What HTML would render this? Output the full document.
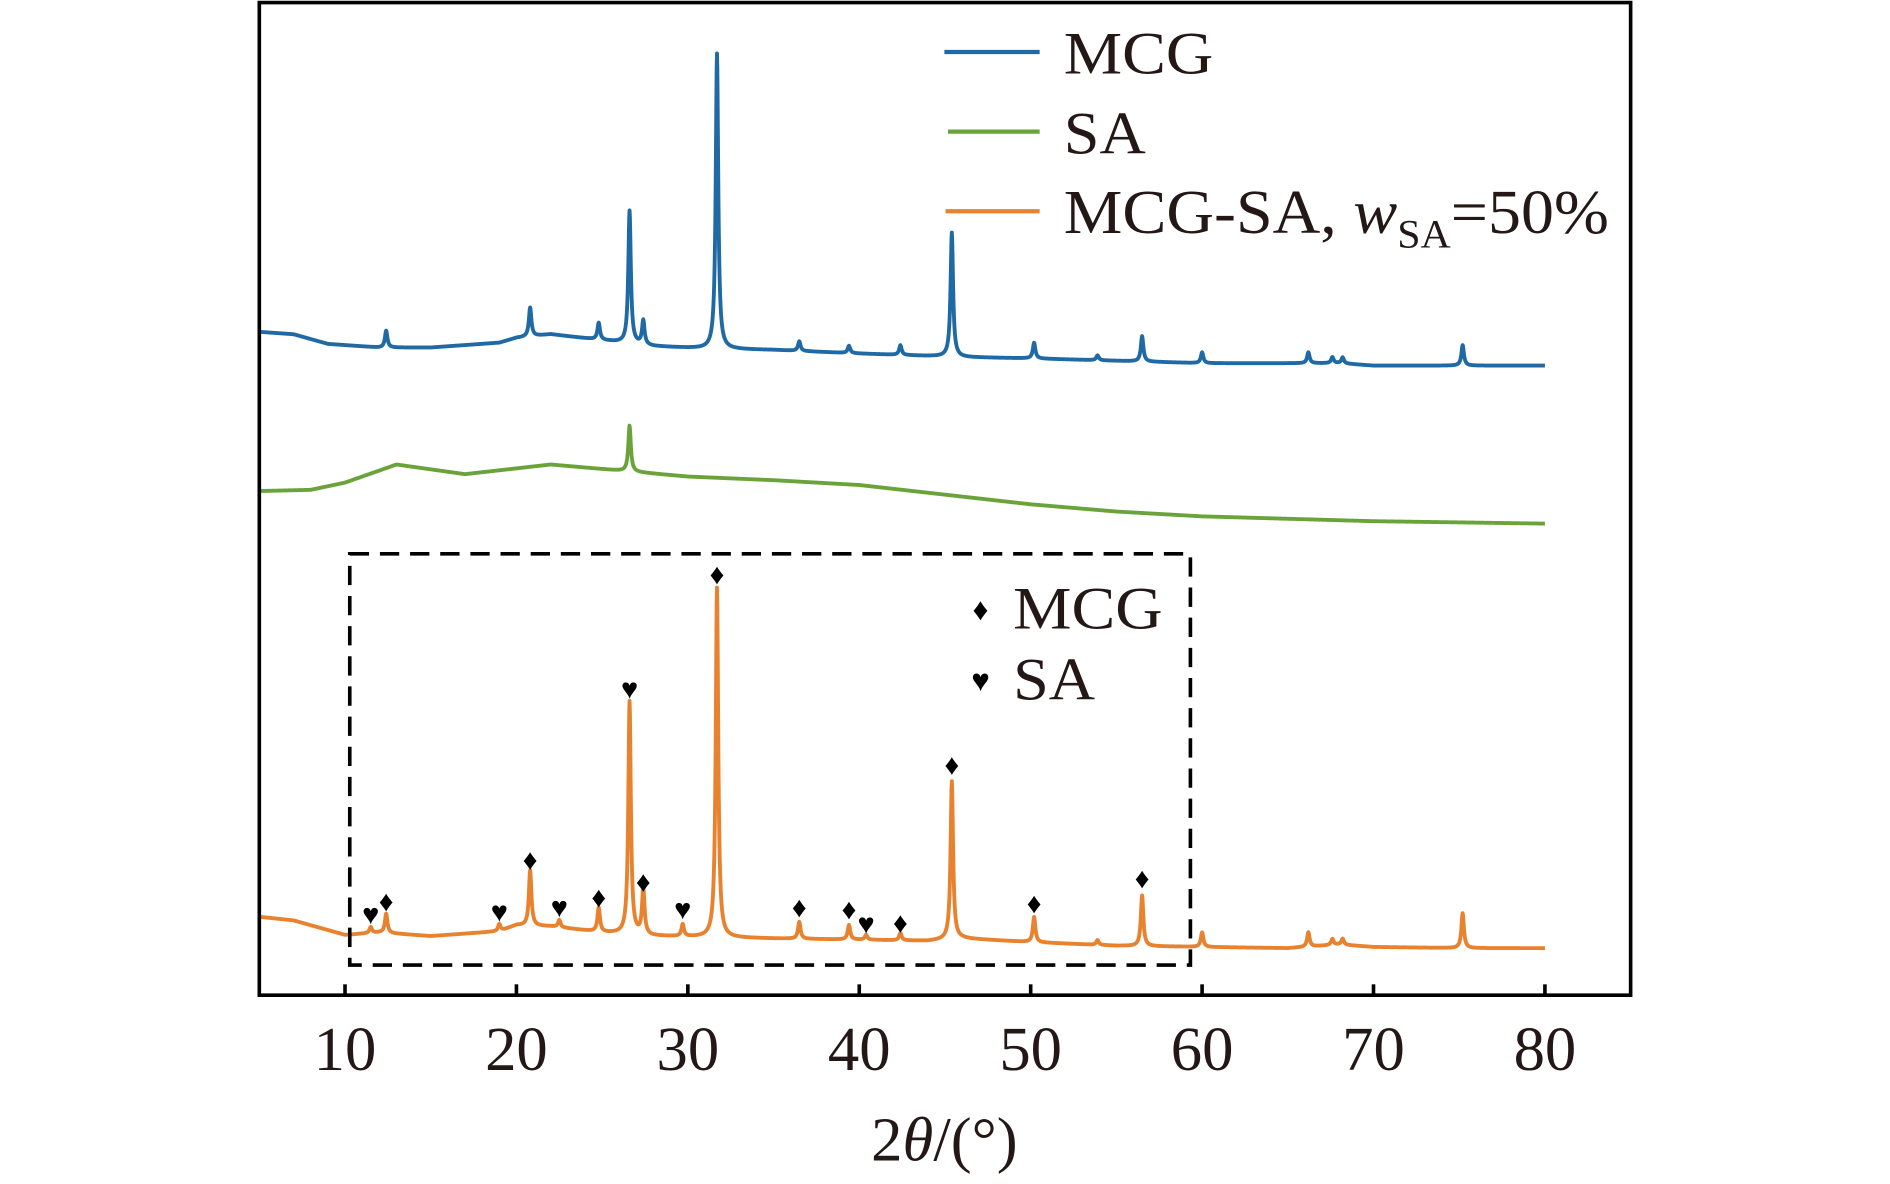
<!DOCTYPE html>
<html><head><meta charset="utf-8"><style>
html,body{margin:0;padding:0;background:#fff;}
svg{display:block;}
text{font-family:"Liberation Serif",serif;fill:#231815;}
</style></head><body>
<svg id="chart" width="1890" height="1184" viewBox="0 0 1560 977" xmlns="http://www.w3.org/2000/svg">
<g transform="scale(0.9955)">
<g id="series"></g>
<g id="markers"></g>
<rect x="290" y="459" width="697" height="341" fill="none" stroke="#000" stroke-width="3" stroke-dasharray="16,9"/>
<rect x="215" y="2" width="1137" height="823" fill="none" stroke="#000" stroke-width="3"/>
<g id="xticks"></g>
<text x="783" y="962" font-size="52" text-anchor="middle">2<tspan font-style="italic">θ</tspan>/(°)</text>
<g>
  <line x1="783" y1="43" x2="862" y2="43" stroke="#1f6aa5" stroke-width="3.5"/>
  <text x="882" y="61" font-size="50" textLength="124" lengthAdjust="spacingAndGlyphs">MCG</text>
  <line x1="786" y1="109" x2="862" y2="109" stroke="#6aa33a" stroke-width="3.5"/>
  <text x="882" y="127" font-size="50" textLength="68" lengthAdjust="spacingAndGlyphs">SA</text>
  <line x1="784" y1="175" x2="862" y2="175" stroke="#e8822e" stroke-width="3.5"/>
  <text x="882" y="193" font-size="52" textLength="452" lengthAdjust="spacingAndGlyphs">MCG-SA, <tspan font-style="italic">w</tspan><tspan font-size="33" dy="12">SA</tspan><tspan dy="-12">=50%</tspan></text>
</g>
<g>
  <text x="813" y="514" font-size="26" text-anchor="middle" style="fill:#000">♦</text>
  <text x="840" y="521" font-size="50" textLength="124" lengthAdjust="spacingAndGlyphs">MCG</text>
  <text x="813" y="573" font-size="26" text-anchor="middle" style="fill:#000">♥</text>
  <text x="840" y="580" font-size="50" textLength="68" lengthAdjust="spacingAndGlyphs">SA</text>
</g>
</g>
</svg>
<script>
// x axis values
const xTicks = [10,20,30,40,50,60,70,80];
// MCG baseline (2theta, intensity) and peaks (position, height)
const mcgBaseX = [5,7,9,12,15,19,20,22,25,28,31,35,40,44,46,50,55,60,65,68,70,75,80];
const mcgBaseY = [550,548,540,537,537,541,545,548,543,538,536,535,532,530,529,528,526,524,524,524,522,522,522];
const mcgPeakX = [12.4,20.8,24.8,26.6,27.4,31.7,36.5,39.4,42.4,45.4,50.2,53.9,56.5,60.0,66.2,67.6,68.2,75.2];
const mcgPeakH = [14,24,14,110,20,245,8,6,8,103,13,4,21,9,9,5,5,17];
// SA baseline and peaks
const saBaseX = [5,8,10,13,17,22,26,30,35,40,45,50,55,60,70,80];
const saBaseY = [418,419,425,440,432,440,435,430,427,423,415,407,401,397,393,391];
const saPeakX = [26.6];
const saPeakH = [38];
// MCG-SA composite baseline and peaks
const compBaseX = [5,7,10,12,15,19,20,22,25,28,31,35,40,44,46,50,55,60,65,68,70,75,80];
const compBaseY = [65,62,50,52,49,53,58,57,52,49,48,47,46,45,47,44,41,40,39,42,40,39,39];
const compPeakX = [11.5,12.4,19.0,20.8,22.5,24.8,26.6,27.4,29.7,31.7,36.5,39.4,40.4,42.4,45.4,50.2,53.9,56.5,60.0,66.2,67.6,68.2,75.2];
const compPeakH = [5,16,6,46,6,20,193,38,10,290,14,12,4,6,131,21,4,42,12,12,5,5,29];
// phase markers
const diamondX = [12.4,20.8,24.8,27.4,31.7,36.5,39.4,42.4,45.4,50.2,56.5];
const diamondV = [79,113,82,95,350,74,72,61,192,77,98];
const heartX = [11.5,19.0,22.5,26.6,29.7,40.4];
const heartV = [68,70,74,255,72,60];

const NS = "http://www.w3.org/2000/svg";
const xMin = 5, xMax = 85, pxL = 215, pxR = 1352;
function xs(v){ return pxL + (v - xMin) / (xMax - xMin) * (pxR - pxL); }
function ys(v){ return 825 - v; }
function interp(bx, by, x){
  for (let i = 0; i < bx.length - 1; i++) {
    if (x >= bx[i] && x <= bx[i+1]) { const t = (x - bx[i]) / (bx[i+1] - bx[i]); return by[i] + t * (by[i+1] - by[i]); }
  }
  return by[by.length - 1];
}
function profile(bx, by, px, ph, x){
  let v = interp(bx, by, x);
  for (let i = 0; i < px.length; i++) { const d = (x - px[i]) / 0.11; v += ph[i] / (1 + d * d * 1.6); }
  return v;
}
const sg = document.getElementById('series');
function drawSeries(name, color, bx, by, px, ph){
  let d = '';
  for (let x = 5; x <= 80.0001; x += 0.02) {
    d += (d ? 'L' : 'M') + xs(x).toFixed(2) + ',' + ys(profile(bx, by, px, ph, x)).toFixed(2);
  }
  const p = document.createElementNS(NS, 'path');
  p.setAttribute('d', d);
  p.setAttribute('fill', 'none');
  p.setAttribute('stroke', color);
  p.setAttribute('stroke-width', '3.2');
  p.setAttribute('stroke-linejoin', 'round');
  
  
  sg.appendChild(p);
}
drawSeries('mcg-line', '#1f6aa5', mcgBaseX, mcgBaseY, mcgPeakX, mcgPeakH);
drawSeries('sa-line', '#6aa33a', saBaseX, saBaseY, saPeakX, saPeakH);
drawSeries('mcg-sa-line', '#e8822e', compBaseX, compBaseY, compPeakX, compPeakH);

const mg = document.getElementById('markers');
function marker(name, ch, x, v){
  const t = document.createElementNS(NS, 'text');
  t.setAttribute('x', xs(x));
  t.setAttribute('y', ys(v) + 9);
  t.setAttribute('font-size', '24');
  t.setAttribute('text-anchor', 'middle');
  t.setAttribute('style', 'fill:#000');
  t.textContent = ch;
  
  
  mg.appendChild(t);
}
diamondX.forEach((x, i) => marker('mcg-marker', '♦', x, diamondV[i]));
heartX.forEach((x, i) => marker('sa-marker', '♥', x, heartV[i]));

const tg = document.getElementById('xticks');
xTicks.forEach(v => {
  const l = document.createElementNS(NS, 'line');
  l.setAttribute('x1', xs(v)); l.setAttribute('x2', xs(v));
  l.setAttribute('y1', 825); l.setAttribute('y2', 816);
  l.setAttribute('stroke', '#000'); l.setAttribute('stroke-width', '3');
  
  
  tg.appendChild(l);
  const t = document.createElementNS(NS, 'text');
  t.setAttribute('x', xs(v)); t.setAttribute('y', 887);
  t.setAttribute('font-size', '52'); t.setAttribute('text-anchor', 'middle');
  t.textContent = v;
  
  
  tg.appendChild(t);
});
</script>
</body></html>
